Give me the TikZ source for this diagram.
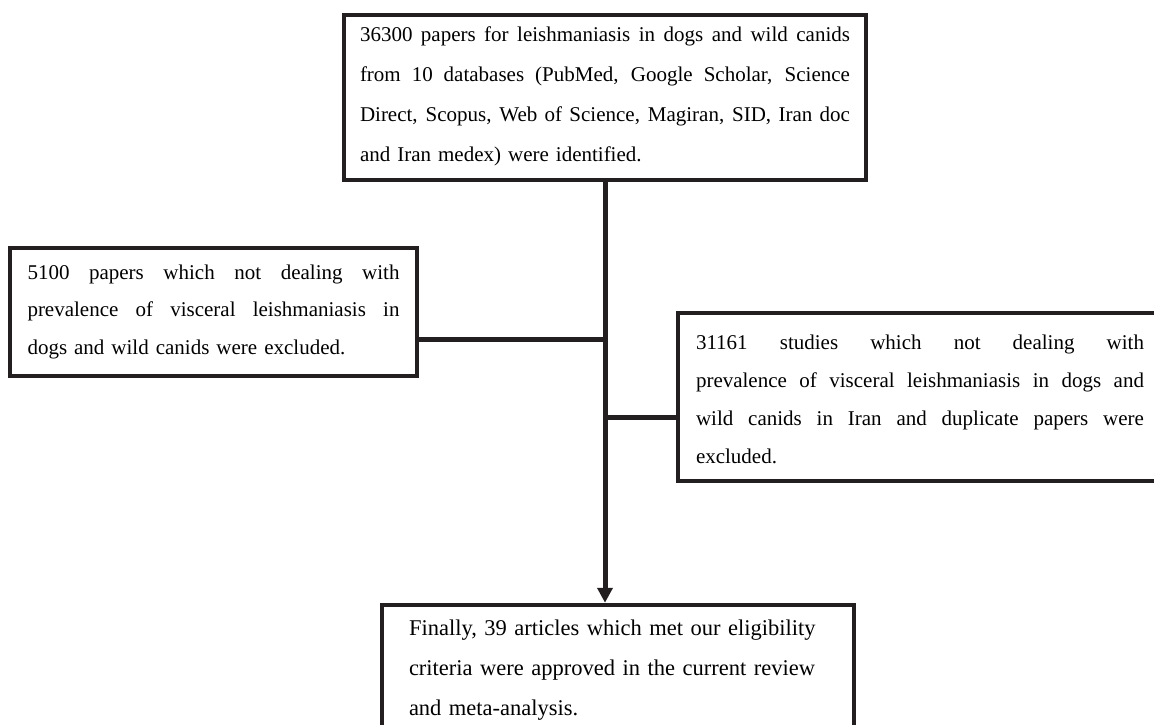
\documentclass[tikz,border=0pt]{standalone}
\usepackage{fontspec}
\setmainfont{Liberation Serif}
\usetikzlibrary{arrows.meta}
\definecolor{ink}{RGB}{35,31,32}
\newcommand\hs[1]{\rule{0pt}{#1pt}}
\newcommand\ds[1]{\rule[-#1pt]{0pt}{#1pt}}
\newcommand\jl[2]{\leavevmode\hbox to #1{\spaceskip=0.25em plus 1fil\relax\xspaceskip=0.25em plus 1fil\relax #2}}
\tikzset{
  box/.style={draw=ink, line width=4.5pt, rectangle, inner sep=0pt, align=left},
  conn/.style={draw=ink, line width=5pt},
}
\begin{document}
\begin{tikzpicture}[x=1pt,y=-1pt]
\useasboundingbox (0,0) rectangle (1154,725);
\node[box, minimum width=522pt, minimum height=165pt, text width=490pt,
      font=\fontsize{21}{40}\selectfont] (top) at (605,97.5) {%
\jl{490pt}{\hs{25}36300 papers for leishmaniasis in dogs and wild canids}\\
\jl{490pt}{from 10 databases (PubMed, Google Scholar, Science}\\
\jl{490pt}{Direct, Scopus, Web of Science, Magiran, SID, Iran doc}\\
and Iran medex) were identified.\ds{17}};
\node[box, minimum width=407pt, minimum height=128pt, text width=372pt,
      font=\fontsize{21}{37.5}\selectfont] (left) at (213.5,312) {%
\jl{372pt}{\hs{26}5100 papers which not dealing with}\\
\jl{372pt}{prevalence of visceral leishmaniasis in}\\
dogs and wild canids were excluded.\ds{17}};
\node[box, minimum width=484pt, minimum height=160pt, text width=448pt,
      font=\fontsize{21}{38.3}\selectfont] (right) at (920,397) {%
\jl{448pt}{\hs{36}31161 studies which not dealing with}\\
\jl{448pt}{prevalence of visceral leishmaniasis in dogs and}\\
\jl{448pt}{wild canids in Iran and duplicate papers were}\\
excluded.\ds{17}};
\node[box, minimum width=472pt, minimum height=136pt, text width=418pt,
      font=\fontsize{22.5}{40}\selectfont] (bottom) at (618,673) {%
\hs{21}Finally, 39 articles which met our eligibility\\
criteria were approved in the current review\\
and meta-analysis.\ds{17}};
\coordinate (ja) at (top.south |- bottom.north);
\coordinate (jl) at (605,339);
\coordinate (jr) at (605,417);
\draw[conn, -{Triangle[length=15pt,width=15pt]}] (top.south) -- (ja);
\draw[conn] (jl) -- (jl -| left.east);
\draw[conn] (jr) -- (jr -| right.west);
\end{tikzpicture}
\end{document}
